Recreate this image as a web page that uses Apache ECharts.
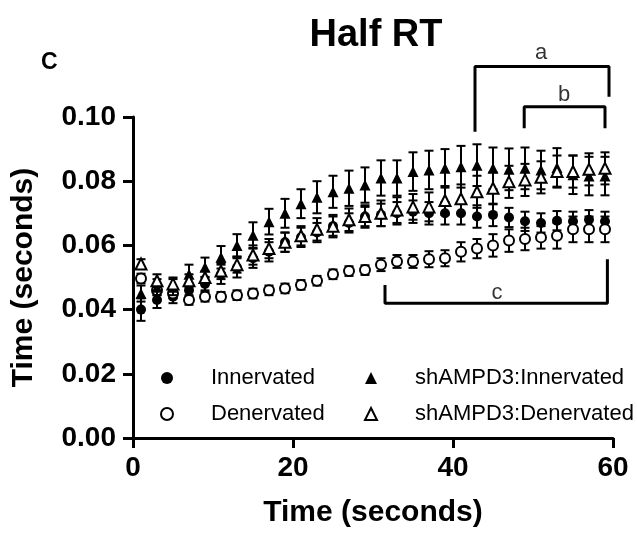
<!DOCTYPE html>
<html>
<head>
<meta charset="utf-8">
<script src="https://cdn.jsdelivr.net/npm/echarts@6/dist/echarts.min.js"></script>
<style>html,body{margin:0;padding:0;background:#fff}#c{width:637px;height:539px}</style>
</head>
<body>
<div id="c"></div>
<script>
const times = [1,3,5,7,9,11,13,15,17,19,21,23,25,27,29,31,33,35,37,39,41,43,45,47,49,51,53,55,57,59];
const innervated = [0.040,0.043,0.044,0.046,0.048,0.051,0.053,0.056,0.058,0.061,0.0625,0.064,0.066,0.067,0.069,0.0695,0.070,0.0705,0.070,0.070,0.070,0.069,0.0695,0.0687,0.0675,0.067,0.0677,0.0675,0.068,0.0675];
const innervatedErr = [0.0035,0.0025,0.002,0.002,0.002,0.003,0.003,0.003,0.003,0.003,0.003,0.003,0.003,0.003,0.003,0.0035,0.0035,0.0035,0.0035,0.0035,0.0035,0.0035,0.0035,0.003,0.003,0.003,0.003,0.003,0.003,0.003];
const denervated = [0.0497,0.046,0.045,0.043,0.044,0.044,0.0445,0.045,0.046,0.0466,0.0477,0.049,0.051,0.052,0.0523,0.054,0.055,0.055,0.0557,0.056,0.058,0.059,0.060,0.0615,0.062,0.0625,0.063,0.065,0.065,0.065];
const denervatedErr = [0.0015,0.0015,0.0015,0.0015,0.0015,0.0015,0.0015,0.0015,0.0015,0.0015,0.0015,0.0015,0.0015,0.0015,0.0015,0.002,0.002,0.002,0.0025,0.0025,0.003,0.003,0.0035,0.0035,0.0035,0.0035,0.004,0.004,0.004,0.004];
const shInnervated = [0.045,0.047,0.047,0.051,0.0532,0.0563,0.060,0.0632,0.0674,0.070,0.073,0.075,0.0767,0.0778,0.0788,0.081,0.081,0.083,0.0835,0.084,0.0845,0.085,0.084,0.0837,0.084,0.0835,0.0843,0.082,0.0816,0.0816];
const shInnervatedErr = [0.0025,0.0025,0.0025,0.003,0.003,0.0035,0.0035,0.004,0.004,0.0045,0.0045,0.005,0.005,0.0055,0.0055,0.0055,0.0055,0.006,0.006,0.006,0.0065,0.0065,0.0065,0.0065,0.0065,0.006,0.006,0.006,0.006,0.006];
const shDenervated = [0.0542,0.049,0.048,0.049,0.050,0.052,0.054,0.057,0.059,0.061,0.063,0.065,0.066,0.068,0.069,0.070,0.071,0.072,0.072,0.074,0.0745,0.0767,0.0778,0.0798,0.0804,0.0812,0.083,0.083,0.0837,0.084];
const shDenervatedErr = [0.0015,0.002,0.002,0.002,0.002,0.0025,0.0025,0.003,0.003,0.003,0.003,0.0035,0.0035,0.0035,0.0035,0.004,0.004,0.004,0.0045,0.0045,0.0045,0.005,0.005,0.005,0.005,0.005,0.005,0.005,0.005,0.005];
const seriesNames = ['Innervated','Denervated','shAMPD3:Innervated','shAMPD3:Denervated'];
const yTicks = [0, 0.02, 0.04, 0.06, 0.08, 0.10];
const xTicks = [0, 20, 40, 60];
const bracketA = [[42.75,0.0954],[42.75,0.1157],[59.5,0.1157],[59.5,0.1063]];
const bracketB = [[48.9,0.0965],[48.9,0.1032],[59,0.1032],[59,0.0965]];
const bracketC = [[31.5,0.0477],[31.5,0.042],[59.3,0.042],[59.3,0.0557]];
const bracketLabels = [[51,0.120,'a'],[53.9,0.107,'b'],[45.5,0.0452,'c']];

const FONT = "'Liberation Sans', Arial, sans-serif";
const chart = echarts.init(document.getElementById('c'), null, {renderer:'canvas'});

function errData(vals, errs){
  return times.map((t,i)=>[t, vals[i]-errs[i], vals[i]+errs[i]]);
}
function errSeries(vals, errs, z){
  return {
    type:'custom', silent:true, z:z,
    renderItem:function(params, api){
      const x = api.value(0), lo = api.value(1), hi = api.value(2);
      const p1 = api.coord([x, lo]), p2 = api.coord([x, hi]);
      const hw = 4.5;
      const st = {stroke:'#000', lineWidth:2};
      return {type:'group', children:[
        {type:'line', shape:{x1:p1[0],y1:p1[1],x2:p2[0],y2:p2[1]}, style:st},
        {type:'line', shape:{x1:p1[0]-hw,y1:p1[1],x2:p1[0]+hw,y2:p1[1]}, style:st},
        {type:'line', shape:{x1:p2[0]-hw,y1:p2[1],x2:p2[0]+hw,y2:p2[1]}, style:st}
      ]};
    },
    encode:{x:0, y:[1,2]},
    data: errData(vals, errs)
  };
}
function ptSeries(name, vals, symbol, size, open, z){
  return {
    name:name, type:'scatter', symbol:symbol, symbolSize:size, z:z,
    itemStyle: open ? {color:'#fff', borderColor:'#000', borderWidth:2, opacity:1} : {color:'#000', borderColor:'#000', borderWidth:0, opacity:1},
    data: times.map((t,i)=>[t, vals[i]])
  };
}
function bracket(pts){
  return {type:'line', data:pts, showSymbol:false, symbol:'none', clip:false, silent:true, z:20,
    lineStyle:{color:'#000', width:3}};
}

const legendBase = {orient:'vertical', top:362, itemWidth:12, itemHeight:12, itemGap:14, selectedMode:false,
  textStyle:{fontFamily:FONT, fontSize:22, color:'#000', padding:[0,0,0,33]}};

const option = {
  animation:false,
  backgroundColor:'#fff',
  title:[
    {text:'Half RT', left:371, textAlign:'center', top:12, textStyle:{fontFamily:FONT, fontSize:38, fontWeight:'bold', color:'#000'}},
    {text:'C', left:36, top:46, textStyle:{fontFamily:FONT, fontSize:23, fontWeight:'bold', color:'#000'}}
  ],
  legend:[
    Object.assign({data:[seriesNames[0], seriesNames[1]], left:155}, legendBase),
    Object.assign({data:[seriesNames[2], seriesNames[3]], left:359}, legendBase)
  ],
  grid:{left:133, right:24, top:117, bottom:101, containLabel:false},
  xAxis:{
    type:'value', min:xTicks[0], max:xTicks[xTicks.length-1], interval:20,
    name:'Time (seconds)', nameLocation:'middle', nameGap:60,
    nameTextStyle:{fontFamily:FONT, fontSize:30, fontWeight:'bold', color:'#000'},
    axisLine:{show:true, onZero:false, lineStyle:{color:'#000', width:3}},
    axisTick:{show:true, length:10, lineStyle:{color:'#000', width:3}},
    axisLabel:{fontFamily:FONT, fontSize:28, fontWeight:'bold', color:'#000', margin:16},
    splitLine:{show:false}
  },
  yAxis:{
    type:'value', min:yTicks[0], max:yTicks[yTicks.length-1], interval:0.02,
    name:'Time (seconds)', nameLocation:'middle', nameGap:94, nameRotate:90,
    nameTextStyle:{fontFamily:FONT, fontSize:30, fontWeight:'bold', color:'#000'},
    axisLine:{show:true, onZero:false, lineStyle:{color:'#000', width:3}},
    axisTick:{show:true, length:10, lineStyle:{color:'#000', width:3}},
    axisLabel:{fontFamily:FONT, fontSize:28, fontWeight:'bold', color:'#000', margin:17, formatter:v=>v.toFixed(2)},
    splitLine:{show:false}
  },
  series:[
    errSeries(innervated, innervatedErr, 2),
    ptSeries(seriesNames[0], innervated, 'circle', 10, false, 3),
    errSeries(denervated, denervatedErr, 4),
    ptSeries(seriesNames[1], denervated, 'circle', 10, true, 5),
    errSeries(shInnervated, shInnervatedErr, 6),
    ptSeries(seriesNames[2], shInnervated, 'triangle', 11, false, 7),
    errSeries(shDenervated, shDenervatedErr, 8),
    ptSeries(seriesNames[3], shDenervated, 'triangle', 11, true, 9),
    bracket(bracketA), bracket(bracketB), bracket(bracketC),
    {type:'scatter', symbolSize:0, clip:false, silent:true, z:21,
     data: bracketLabels,
     label:{show:true, position:'inside', formatter:p=>p.data[2], fontFamily:FONT, fontSize:22, color:'#000'}}
  ]
};
chart.setOption(option);
</script>
</body>
</html>
